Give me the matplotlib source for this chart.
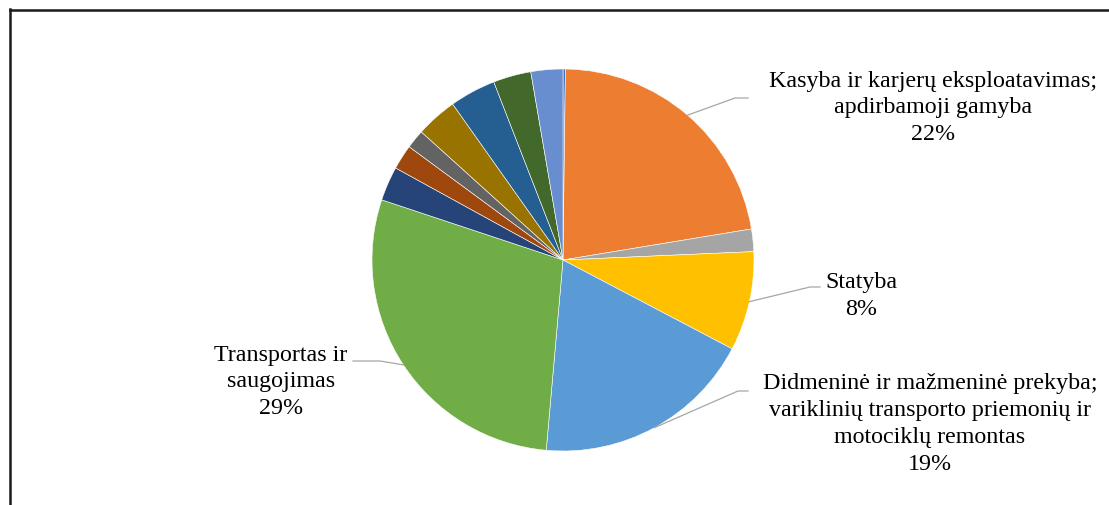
import numpy as np
import matplotlib
matplotlib.use("Agg")
import matplotlib.pyplot as plt
from matplotlib.lines import Line2D

# Shares (%) in drawing order, clockwise from 12 o'clock
values = [0.2, 22.2, 1.9, 8.4, 18.7, 28.7, 2.9, 2.1, 1.6, 3.5, 3.9, 3.2, 2.7]
colors = ["#4472C4", "#ED7D31", "#A5A5A5", "#FFC000", "#5B9BD5", "#70AD47",
          "#264478", "#9E480E", "#636363", "#997300", "#255E91", "#43682B", "#698ED0"]
# Labelled slices: index -> text
labels = {
    1: "Kasyba ir karjerų eksploatavimas;\napdirbamoji gamyba",
    3: "Statyba",
    4: "Didmeninė ir mažmeninė prekyba;\nvariklinių transporto priemonių ir\nmotociklų remontas",
    5: "Transportas ir\nsaugojimas",
}
pct_labels = {1: "22%", 3: "8%", 4: "19%", 5: "29%"}

W, H = 1109, 506
fig = plt.figure(figsize=(W / 100, H / 100), dpi=100)
fig.patch.set_facecolor("white")

cx, cy, R = 563, 261, 191
ax = fig.add_axes([(cx - R) / W, (H - cy - R) / H, 2 * R / W, 2 * R / H])
wedges, _ = ax.pie(values, colors=colors, startangle=90, counterclock=False,
                   wedgeprops=dict(edgecolor="white", linewidth=0.4))
ax.set_xlim(-1, 1)
ax.set_ylim(-1, 1)
ax.set_aspect("equal")
ax.axis("off")

def px2d(px, py):
    return ((px - cx) / R, (cy - py) / R)

# label placement (pixel coords of text block centre, elbow, end of leader)
place = {
    1: dict(text=(933, 108), elbow=(735, 99), end=(748, 99)),
    3: dict(text=(861, 296), elbow=(810, 288), end=(820, 288)),
    4: dict(text=(930, 424), elbow=(738, 392), end=(748, 392)),
    5: dict(text=(281, 382), elbow=(380, 362), end=(353, 362)),
}

for i, w in enumerate(wedges):
    if i not in labels:
        continue
    mid = np.deg2rad((w.theta1 + w.theta2) / 2)
    sx, sy = np.cos(mid), np.sin(mid)
    p = place[i]
    ex, ey = px2d(*p["elbow"])
    fx, fy = px2d(*p["end"])
    ax.add_line(Line2D([sx, ex, fx], [sy, ey, fy], color="#A6A6A6",
                       linewidth=0.9, clip_on=False))
    tx, ty = p["text"]
    fig.text(tx / W, 1 - ty / H, labels[i] + "\n" + pct_labels[i],
             ha="center", va="center", multialignment="center",
             fontsize=17.3, family="Liberation Serif", linespacing=1.37,
             color="black")

# partial frame (top and left edges)
fig.add_artist(Line2D([9.5 / W, 9.5 / W], [0, 1 - 10 / H], transform=fig.transFigure,
                      color="#1a1a1a", linewidth=1.8))
fig.add_artist(Line2D([9.5 / W, 1], [1 - 10.5 / H, 1 - 10.5 / H], transform=fig.transFigure,
                      color="#1a1a1a", linewidth=1.8))

fig.savefig("out.png", dpi=100)
